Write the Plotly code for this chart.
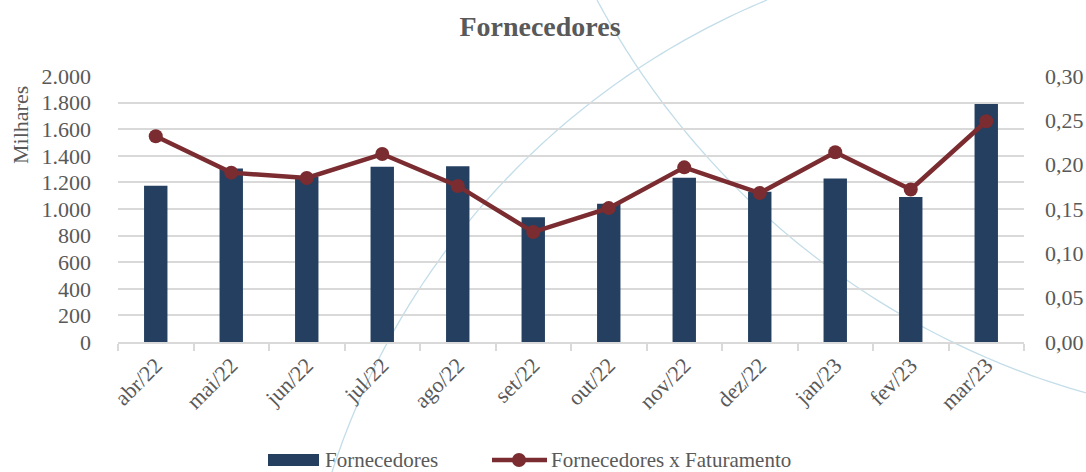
import numpy as np
import plotly.graph_objects as go

# ---------------- data ----------------
months = ["abr/22", "mai/22", "jun/22", "jul/22", "ago/22", "set/22",
          "out/22", "nov/22", "dez/22", "jan/23", "fev/23", "mar/23"]
fornecedores = [1175, 1305, 1243, 1317, 1321, 938, 1039, 1235, 1129, 1230, 1090, 1789]
forn_x_fat = [0.232, 0.191, 0.185, 0.212, 0.176, 0.124, 0.151, 0.197, 0.168, 0.214, 0.172, 0.249]

left_ticks = [0, 200, 400, 600, 800, 1000, 1200, 1400, 1600, 1800, 2000]
right_ticks = [0.0, 0.05, 0.10, 0.15, 0.20, 0.25, 0.30]

series_names = ["Fornecedores", "Fornecedores x Faturamento"]

# ---------------- layout geometry (pixels) ----------------
W, H = 1086, 472
L, R, T, B = 118, 1024, 76, 342

FONT = "Liberation Serif"
GREY = "#595959"
GRID = "#d9d9d9"
BAR = "#243F60"
LINE = "#7B2C30"
CURVE = "#c3dde9"


def to_paper(px, py):
    return (px - L) / (R - L), (B - py) / (B - T)


def arc_path(p1, p2, p3, n=80):
    (x1, y1), (x2, y2), (x3, y3) = p1, p2, p3
    d = 2 * (x1 * (y2 - y3) + x2 * (y3 - y1) + x3 * (y1 - y2))
    ux = ((x1**2 + y1**2) * (y2 - y3) + (x2**2 + y2**2) * (y3 - y1) + (x3**2 + y3**2) * (y1 - y2)) / d
    uy = ((x1**2 + y1**2) * (x3 - x2) + (x2**2 + y2**2) * (x1 - x3) + (x3**2 + y3**2) * (x2 - x1)) / d
    r = np.hypot(x1 - ux, y1 - uy)
    a1 = np.arctan2(y1 - uy, x1 - ux)
    a3 = np.arctan2(y3 - uy, x3 - ux)
    a2 = np.arctan2(y2 - uy, x2 - ux)

    def norm(a):
        return (a - a1) % (2 * np.pi)
    if norm(a2) < norm(a3):
        angs = a1 + np.linspace(0, norm(a3), n)
    else:
        angs = a1 - np.linspace(0, 2 * np.pi - norm(a3), n)
    pts = [to_paper(ux + r * np.cos(a), uy + r * np.sin(a)) for a in angs]
    return "M " + " L ".join(f"{x:.5f},{y:.5f}" for x, y in pts)


fig = go.Figure()

fig.add_trace(go.Bar(
    x=months, y=fornecedores, name=series_names[0],
    marker=dict(color=BAR, line=dict(width=0)), width=0.31,
    yaxis="y", showlegend=False,
))

fig.add_trace(go.Scatter(
    x=months, y=forn_x_fat, name=series_names[1],
    mode="lines+markers",
    line=dict(color=LINE, width=4.5),
    marker=dict(color=LINE, size=14),
    yaxis="y2", showlegend=False,
))

shapes = [
    dict(type="path", xref="paper", yref="paper", layer="below",
         path=arc_path((332, 472), (487, 200), (767, 0)),
         line=dict(color=CURVE, width=1.3)),
    dict(type="path", xref="paper", yref="paper", layer="below",
         path=arc_path((597, 0), (800, 245), (1086, 393)),
         line=dict(color=CURVE, width=1.3)),
]

LEG_Y = 460
# custom legend (swatches drawn in paper coords)
lx0, ly0 = to_paper(268, LEG_Y - 6)
lx1, ly1 = to_paper(319, LEG_Y + 6)
shapes.append(dict(type="rect", xref="paper", yref="paper", x0=lx0, x1=lx1, y0=ly0, y1=ly1,
                   fillcolor=BAR, line=dict(width=0)))
mx0, my = to_paper(492, LEG_Y)
mx1, _ = to_paper(547, LEG_Y)
shapes.append(dict(type="line", xref="paper", yref="paper", x0=mx0, x1=mx1, y0=my, y1=my,
                   line=dict(color=LINE, width=4.5)))
cx0, cy0 = to_paper(512, LEG_Y - 7)
cx1, cy1 = to_paper(526, LEG_Y + 7)
shapes.append(dict(type="circle", xref="paper", yref="paper", x0=cx0, x1=cx1, y0=cy0, y1=cy1,
                   fillcolor=LINE, line=dict(width=0)))

annotations = [
    dict(text="Milhares", xref="paper", yref="paper",
         x=to_paper(20, 0)[0], y=to_paper(0, 125)[1],
         xanchor="center", yanchor="middle", textangle=-90, showarrow=False,
         font=dict(family=FONT, size=22, color=GREY)),
    dict(text=series_names[0], xref="paper", yref="paper",
         x=to_paper(323, 0)[0], y=to_paper(0, LEG_Y)[1], xanchor="left", yanchor="middle",
         showarrow=False, font=dict(family=FONT, size=21, color=GREY)),
    dict(text=series_names[1], xref="paper", yref="paper",
         x=to_paper(549, 0)[0], y=to_paper(0, LEG_Y)[1], xanchor="left", yanchor="middle",
         showarrow=False, font=dict(family=FONT, size=21, color=GREY)),
]

fig.update_layout(
    width=W, height=H,
    margin=dict(l=L, r=W - R, t=T, b=H - B, pad=0),
    paper_bgcolor="white", plot_bgcolor="rgba(0,0,0,0)",
    separators=",.",
    showlegend=False,
    font=dict(family=FONT, size=22, color=GREY),
    title=dict(text="<b>Fornecedores</b>", x=540 / W, xanchor="center",
               y=1 - 26 / H, yanchor="middle", yref="container",
               font=dict(family=FONT, size=28, color=GREY)),
    xaxis=dict(
        type="category", showgrid=False, showline=True, linecolor=GRID, linewidth=1.5,
        ticks="outside", tickson="boundaries", ticklen=7, tickcolor=GRID, tickwidth=1.5,
        tickangle=-45, tickfont=dict(family=FONT, size=22, color=GREY),
        range=[-0.5, 11.5], automargin=False,
    ),
    yaxis=dict(
        range=[0, 2000], tickvals=left_ticks, tickformat=",d",
        showgrid=True, gridcolor=GRID, gridwidth=1.5, zeroline=False,
        showline=False, ticks="", ticklabelstandoff=26, automargin=False,
        tickfont=dict(family=FONT, size=22, color=GREY),
    ),
    yaxis2=dict(
        range=[0, 0.30], tickvals=right_ticks, tickformat=".2f",
        overlaying="y", side="right", showgrid=False, zeroline=False,
        showline=False, ticks="", ticklabelstandoff=20, automargin=False,
        tickfont=dict(family=FONT, size=22, color=GREY),
    ),
    annotations=annotations,
    shapes=shapes,
)

fig.write_html("out.html", config={"displayModeBar": False},
               post_script="document.body.style.margin='0';document.body.style.overflow='hidden';")
